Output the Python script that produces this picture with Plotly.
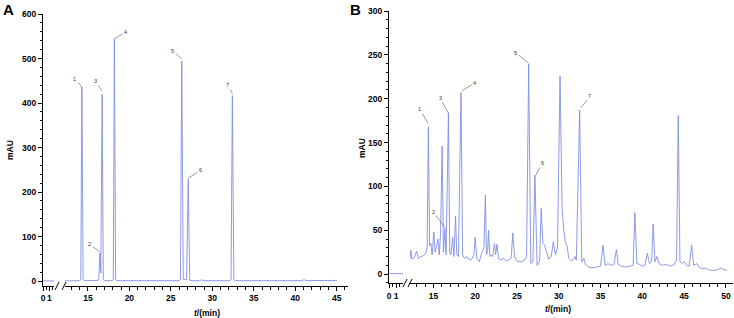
import plotly.graph_objects as go

W, H = 734, 318

# ---------------- data ----------------
# Panel A chromatogram (retention time in min, absorbance in mAU)
a0_time = [0.0, 1.8]
a0_mau = [0.5, 0.5]
a_time = [12.24, 13.5, 14.0, 14.14, 14.28, 14.42, 14.6, 16.2, 16.32, 16.45, 16.56, 16.72, 16.86, 17.0,
          17.9, 18.06, 18.2, 18.34, 18.5, 26.0, 26.16, 26.32, 26.5, 26.9, 27.1, 27.28, 27.6,
          28.5, 28.7, 28.9, 29.4, 29.6, 29.8, 32.1, 32.26, 32.42, 32.6, 32.8,
          40.7, 41.05, 41.4, 45.05]
a_mau = [0.5, 0.8, 1.0, 3, 436, 3, 1.0, 1.5, 8, 63, 18, 420, 3, 1.2,
         1.0, 3, 544, 3, 1.0, 1.0, 3, 494, 4, 3, 229, 2, 1.0,
         1.0, 3, 1.0, 1.0, 2.5, 1.0, 1.0, 3, 417, 3, 1.0,
         1.0, 3, 1.2, 1.5]

# Panel B chromatogram
b0_time = [0.0, 2.0]
b0_mau = [0.5, 0.5]
b_time = [12.15, 12.3, 12.45, 12.7, 13.0, 13.2, 13.5, 13.8, 14.1, 14.25, 14.4, 14.55, 14.7, 14.85,
          15.05, 15.2, 15.35, 15.55, 15.7, 15.85, 16.05, 16.2, 16.38, 16.52, 16.8, 16.95, 17.1,
          17.3, 17.45, 17.65, 17.8, 18.0, 18.3, 18.5, 18.7, 19.0, 19.3, 19.6, 19.85, 20.0, 20.2,
          20.5, 20.7, 20.9, 21.05, 21.22, 21.35, 21.5, 21.6, 21.75, 21.9, 22.1, 22.3, 22.45, 22.6,
          22.8, 23.0, 23.4, 23.7, 24.0, 24.3, 24.5, 24.7, 25.0, 25.5, 25.9, 26.15, 26.4, 26.65,
          26.9, 27.15, 27.4, 27.7, 27.9, 28.1, 28.3, 28.5, 28.8, 29.1, 29.35, 29.6, 29.85, 30.15,
          30.4, 30.6, 30.8, 31.0, 31.2, 31.5, 31.8, 31.95, 32.1, 32.5, 32.75, 33.0, 33.2, 33.6,
          34.0, 34.5, 35.0, 35.3, 35.55, 35.9, 36.3, 36.6, 36.9, 37.1, 37.5, 38.0, 38.5, 38.9,
          39.1, 39.35, 39.7, 40.0, 40.3, 40.6, 40.85, 41.1, 41.3, 41.5, 41.75, 42.0, 42.4, 42.9,
          43.4, 43.8, 44.1, 44.3, 44.5, 44.8, 45.0, 45.3, 45.6, 45.9, 46.15, 46.5, 46.8, 47.2,
          47.5, 47.9, 48.5, 49.0, 49.4, 49.8, 50.1]
b_mau = [14, 27, 17, 19, 26, 18, 20, 21, 24, 30, 168, 32, 35, 22,
         48, 25, 30, 40, 22, 45, 146, 25, 52, 22, 184, 25, 22,
         42, 20, 66, 22, 20, 207, 22, 18, 20, 16, 17, 22, 42, 18,
         14, 22, 26, 30, 90, 22, 28, 50, 20, 22, 20, 35, 22, 34,
         18, 16, 18, 15, 16, 18, 47, 20, 15, 14, 16, 20, 240, 12,
         14, 113, 10, 14, 75, 35, 33, 27, 17, 20, 37, 22, 30, 226,
         75, 50, 36, 32, 18, 15, 17, 20, 16, 187, 14, 18, 11, 8,
         7, 8, 9, 33, 10, 12, 10, 11, 28, 11, 9, 8, 9, 10,
         70, 12, 11, 9, 10, 24, 12, 14, 57, 14, 20, 12, 10, 11,
         9, 11, 16, 181, 14, 12, 14, 10, 9, 33, 10, 12, 8, 6,
         7, 5, 4, 5, 7, 5, 4]

# peak labels: (label, time, mAU at leader end, dx px, dy px)
a_labels = ["1", "2", "3", "4", "5", "6", "7"]
a_lab_t = [14.28, 16.45, 16.72, 18.2, 26.32, 27.1, 32.42]
a_lab_y = [436, 65, 427, 544, 499, 231, 422]
a_lab_dx = [-7, -10, -7, 11, -9, 12, -5]
a_lab_dy = [-8, -8, -10, -7, -8, -8, -8]

b_labels = ["1", "2", "3", "4", "5", "6", "7"]
b_lab_t = [14.35, 16.39, 16.75, 18.42, 26.3, 27.28, 32.66]
b_lab_y = [172, 53, 184, 209, 241, 113, 190]
b_lab_dx = [-8, -12, -8, 13, -12, 6, 9]
b_lab_dy = [-14, -16, -15, -8, -10, -12, -11]

a_yticks = [0, 100, 200, 300, 400, 500, 600]
b_yticks = [0, 50, 100, 150, 200, 250, 300]
a_xticks = [15, 20, 25, 30, 35, 40, 45]
b_xticks = [15, 20, 25, 30, 35, 40, 45, 50]
pre_ticks = [0, 1]

LINE = "rgb(128,142,228)"
FONT = "Liberation Sans, Arial, sans-serif"


def px(x):
    return x / W


def py(y):
    return 1 - y / H


fig = go.Figure()
for xs, ys, xa, ya in [(a0_time, a0_mau, "x", "y"), (a_time, a_mau, "x2", "y"),
                       (b0_time, b0_mau, "x3", "y2"), (b_time, b_mau, "x4", "y2")]:
    fig.add_trace(go.Scatter(x=xs, y=ys, xaxis=xa, yaxis=ya, mode="lines",
                             line=dict(color=LINE, width=0.9), showlegend=False, hoverinfo="skip"))

tickfont = dict(family=FONT, size=8.5, color="black", weight="bold")
common = dict(showline=True, linecolor="black", linewidth=1, ticks="outside", ticklen=4,
              tickwidth=1, tickcolor="black", showgrid=False, zeroline=False,
              tickfont=tickfont, fixedrange=True, automargin=False, tickangle=0)


def minor(**kw):
    d = dict(ticklen=2.5, ticks="outside", tickcolor="black", showgrid=False)
    d.update(kw)
    return d


fig.update_layout(
    width=W, height=H, autosize=False,
    margin=dict(l=0, r=0, t=0, b=0, pad=0, autoexpand=False),
    paper_bgcolor="white", plot_bgcolor="white",
    xaxis=dict(domain=[px(43), px(54.4)], range=[0, 1.8], anchor="y", tickvals=pre_ticks,
               minor=minor(tickvals=[0.5, 1.5]), **common),
    xaxis2=dict(domain=[px(65), px(348.3)], range=[12.24, 46.4], anchor="y", tickvals=a_xticks,
                minor=minor(dtick=1, tick0=0), **common),
    yaxis=dict(domain=[py(286), py(14)], range=[-11, 600], anchor="x", tickvals=a_yticks,
               minor=minor(dtick=20, tick0=0), **common),
    xaxis3=dict(domain=[px(389), px(403)], range=[0, 2.0], anchor="y2", tickvals=pre_ticks,
                minor=minor(tickvals=[0.5, 1.5]), **common),
    xaxis4=dict(domain=[px(410), px(732.6)], range=[12.2, 50.8], anchor="y2", tickvals=b_xticks,
                minor=minor(dtick=1, tick0=0), **common),
    yaxis2=dict(domain=[py(283.3), py(11)], range=[-10.5, 300], anchor="x3", tickvals=b_yticks,
                minor=minor(dtick=10, tick0=0), **common),
)

ann = []


def paper_text(text, x, y, size, angle=0):
    return dict(text=text, x=px(x), y=py(y), xref="paper", yref="paper", showarrow=False,
                xanchor="center", yanchor="middle", textangle=angle,
                font=dict(family=FONT, size=size, color="black"))


# panel letters, axis titles
ann.append(paper_text("<b>A</b>", 8, 10, 15))
ann.append(paper_text("<b>B</b>", 355, 10, 15))
for xx, yy in [(10, 150), (362, 148)]:
    ann.append(paper_text("<b>mAU</b>", xx, yy, 8.5, -90))
for xx, yy in [(207, 313), (558, 309)]:
    ann.append(paper_text("<b><i>t</i>/(min)</b>", xx, yy, 8.5))

# peak labels
for lab, t, v, dx, dy in zip(a_labels, a_lab_t, a_lab_y, a_lab_dx, a_lab_dy):
    ann.append(dict(text=lab, x=t, y=v, xref="x2", yref="y", ax=dx, ay=dy, showarrow=True,
                    arrowhead=0, arrowwidth=0.6, arrowcolor="#555", standoff=0,
                    font=dict(family=FONT, size=5.5, color="#333")))
for lab, t, v, dx, dy in zip(b_labels, b_lab_t, b_lab_y, b_lab_dx, b_lab_dy):
    ann.append(dict(text=lab, x=t, y=v, xref="x4", yref="y2", ax=dx, ay=dy, showarrow=True,
                    arrowhead=0, arrowwidth=0.6, arrowcolor="#555", standoff=0,
                    font=dict(family=FONT, size=5.5, color="#333")))
fig.update_layout(annotations=ann)

# axis-break marks
shapes = []
for (x0, y0, x1, y1) in [(55, 290, 59, 282), (62, 290, 66, 282),
                         (403, 287, 407, 279), (408, 287, 412, 279)]:
    shapes.append(dict(type="line", xref="paper", yref="paper", x0=px(x0), y0=py(y0),
                       x1=px(x1), y1=py(y1), line=dict(color="black", width=1)))
fig.update_layout(shapes=shapes)

fig.write_html("out.html", config={"displayModeBar": False},
               post_script="document.body.style.margin='0';")
